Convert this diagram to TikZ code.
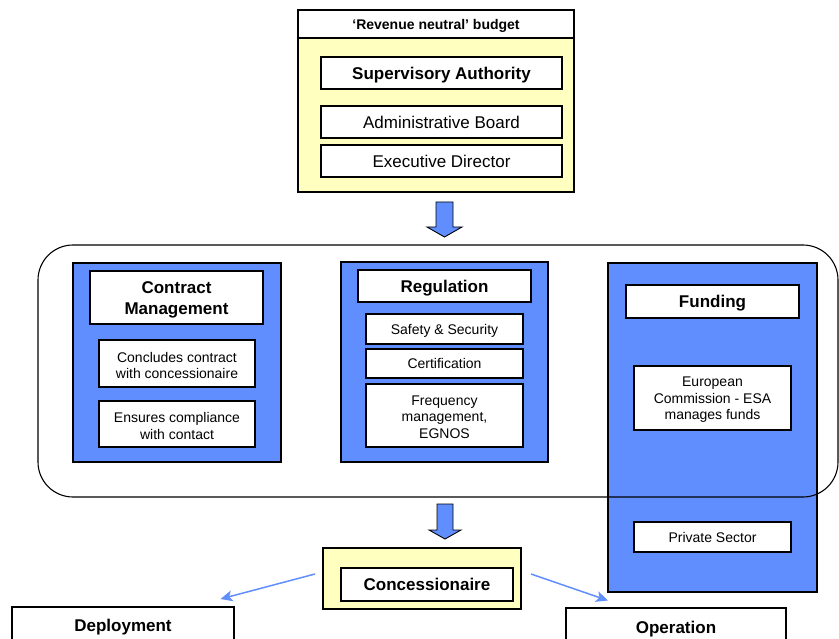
\documentclass[tikz,border=0pt]{standalone}
\usepackage{fontspec}
\setmainfont{Liberation Sans}
\usetikzlibrary{arrows.meta}
\definecolor{blueF}{RGB}{97,142,255}
\definecolor{yelF}{RGB}{255,255,192}
\newcommand{\upstrut}[1]{\rule{0pt}{#1}}
\begin{document}
\begin{tikzpicture}[x=1pt,y=-1pt,
  bx/.style={draw=black,line width=1.1pt,fill=white,inner sep=0pt,align=center,text=black},
  bluebox/.style={draw=black,line width=1.1pt,fill=blueF,inner sep=0pt},
  yelbox/.style={draw=black,line width=1.1pt,fill=yelF,inner sep=0pt},
  tbold/.style={font=\fontsize{17}{21}\selectfont\bfseries},
  tbold1/.style={font=\fontsize{17}{21}\selectfont\bfseries,text height=12.3pt,text depth=0pt},
  tmid1/.style={font=\fontsize{17}{20}\selectfont,text height=12.3pt,text depth=0pt},
  tsmall/.style={font=\fontsize{14}{16.6}\selectfont},
  tsmall1/.style={font=\fontsize{14}{16.6}\selectfont,text height=10.1pt,text depth=0pt},
  tsbold1/.style={font=\fontsize{14}{16.6}\selectfont\bfseries,text height=10.1pt,text depth=0pt},
  blockarrow/.style={draw=black,line width=0.9pt,fill=blueF},
  thinarrow/.style={draw=blueF,line width=1.5pt,-{Stealth[length=12pt,width=11pt,inset=3pt]}}]
\useasboundingbox (0,0) rectangle (839,639);
\clip (0,0) rectangle (839,639);
% top block
\node[yelbox,minimum width=276pt,minimum height=182pt] (top) at (436,101) {};
\node[bx,tsbold1,minimum width=276pt,minimum height=28pt] (budget) at (436,24) {‘Revenue neutral’ budget};
\node[bx,tbold1,minimum width=241pt,minimum height=32pt] (sup) at (441.5,73) {Supervisory Authority};
\node[bx,tmid1,minimum width=241pt,minimum height=32pt] (adm) at (441.5,122) {Administrative Board};
\node[bx,tmid1,minimum width=241pt,minimum height=32pt] (exe) at (441.5,161) {Executive Director};
% arrow 1
\draw[blockarrow] (436,202) -- (453,202) -- (453,227) -- (462,227) -- (444.5,237) -- (427,227) -- (436,227) -- cycle;
% contract management
\node[bluebox,minimum width=208pt,minimum height=199pt] (cm) at (177,362.5) {};
\node[bx,tbold,minimum width=173pt,minimum height=53pt] (cmt) at (176.5,297.5) {\upstrut{17.5pt}Contract\\Management};
\node[bx,tsmall,minimum width=156pt,minimum height=47pt] (concl) at (177,363.5) {\upstrut{14pt}Concludes contract\\with concessionaire};
\node[bx,tsmall,minimum width=156pt,minimum height=46pt] (ens) at (177,424) {\upstrut{14pt}Ensures compliance\\with contact};
% regulation
\node[bluebox,minimum width=207pt,minimum height=200pt] (reg) at (444.5,362) {};
\node[bx,tbold1,minimum width=173pt,minimum height=32pt] (regt) at (444.5,286) {Regulation};
\node[bx,tsmall1,minimum width=157pt,minimum height=30pt] (saf) at (444.5,329) {Safety \& Security};
\node[bx,tsmall1,minimum width=157pt,minimum height=29pt] (cert) at (444.5,363.5) {Certification};
\node[bx,tsmall,minimum width=157pt,minimum height=63pt] (freq) at (444.5,415.5) {\upstrut{13pt}Frequency\\management,\\EGNOS};
% funding
\node[bluebox,minimum width=209pt,minimum height=329pt] (fund) at (712.5,427.5) {};
\node[bx,tbold1,minimum width=173pt,minimum height=33pt] (fundt) at (712.5,301.5) {Funding};
\node[bx,tsmall,minimum width=157pt,minimum height=64pt] (euro) at (712.5,398) {\upstrut{13pt}European\\Commission - ESA\\manages funds};
\node[bx,tsmall1,minimum width=157pt,minimum height=30pt] (priv) at (712.5,537) {Private Sector};
% rounded frame
\draw[line width=1.1pt,rounded corners=35pt] (38,245) rectangle (838,497);
% arrow 2
\draw[blockarrow] (437,504) -- (453,504) -- (453,530) -- (461,530) -- (445,539) -- (429,530) -- (437,530) -- cycle;
% concessionaire
\node[yelbox,minimum width=198pt,minimum height=61pt] (concout) at (422,578.5) {};
\node[bx,tbold1,minimum width=172pt,minimum height=33pt] (conc) at (427,584.5) {Concessionaire};
% bottom boxes
\node[bx,minimum width=222pt,minimum height=60pt] (dep) at (123,637) {};
\node[tbold1,anchor=center] (deptxt) at (123,625) {Deployment};
\node[bx,minimum width=220pt,minimum height=60pt] (ope) at (676,638) {};
\node[tbold1,anchor=center] (opetxt) at (676,627) {Operation};
% thin arrows
\coordinate (cl) at (315,574);
\coordinate (dl) at (220.5,599);
\coordinate (cr) at (531,574);
\coordinate (dr) at (608,600.5);
\draw[thinarrow] (cl) -- (dl);
\draw[thinarrow] (cr) -- (dr);
\end{tikzpicture}
\end{document}
